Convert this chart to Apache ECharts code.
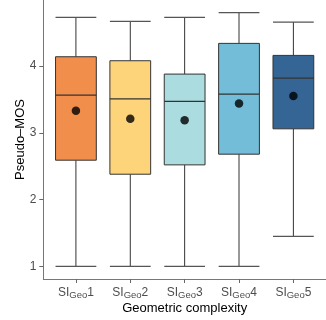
<!DOCTYPE html>
<html>
<head>
<meta charset="utf-8">
<script src="https://cdn.jsdelivr.net/npm/echarts@6/dist/echarts.min.js"></script>
<style>
  html, body { margin: 0; padding: 0; background: #fff; }
  #chart { width: 326px; height: 320px; }
</style>
</head>
<body>
<div id="chart"></div>
<script>
// Geometric complexity groups (SI_Geo 1..5)
const groups = ['1', '2', '3', '4', '5'];
const groupPos = [1, 2, 3, 4, 5];
// Five-number summaries of Pseudo-MOS per group
const lowerWhisker = [1.00, 1.00, 1.00, 1.00, 1.45];
const q1 = [2.59, 2.38, 2.52, 2.68, 3.06];
const median = [3.565, 3.51, 3.47, 3.58, 3.82];
const q3 = [4.14, 4.08, 3.88, 4.34, 4.16];
const upperWhisker = [4.73, 4.67, 4.73, 4.80, 4.66];
// Group means (black dots)
const means = [3.33, 3.21, 3.19, 3.44, 3.55];
const fills = ['#F28E4B', '#FED47B', '#ABDCDF', '#74BDD8', '#346595'];
const yTicks = [1, 2, 3, 4];

const boxData = groupPos.map((p, i) => [p, lowerWhisker[i], q1[i], median[i], q3[i], upperWhisker[i]]);
const meanData = groupPos.map((p, i) => [p, means[i]]);

function renderBox(params, api) {
  const x = api.value(0);
  const i = params.dataIndex;
  const w = api.size([0.75, 0])[0];
  const pMin = api.coord([x, api.value(1)]);
  const pQ1 = api.coord([x, api.value(2)]);
  const pMed = api.coord([x, api.value(3)]);
  const pQ3 = api.coord([x, api.value(4)]);
  const pMax = api.coord([x, api.value(5)]);
  const cx = pMin[0];
  const left = cx - w / 2;
  const stroke = { stroke: '#333', lineWidth: 1, fill: null };
  const cap = { stroke: '#555', lineWidth: 1.3, fill: null };
  return {
    type: 'group',
    children: [
      { type: 'line', shape: { x1: cx, y1: pMin[1], x2: cx, y2: pQ1[1] }, style: stroke },
      { type: 'line', shape: { x1: cx, y1: pQ3[1], x2: cx, y2: pMax[1] }, style: stroke },
      { type: 'line', shape: { x1: left, y1: pMin[1], x2: left + w, y2: pMin[1] }, style: cap },
      { type: 'line', shape: { x1: left, y1: pMax[1], x2: left + w, y2: pMax[1] }, style: cap },
      { type: 'rect', shape: { x: left, y: pQ3[1], width: w, height: pQ1[1] - pQ3[1] },
        style: { fill: fills[i], stroke: '#333', lineWidth: 1 } },
      { type: 'line', shape: { x1: left, y1: pMed[1], x2: left + w, y2: pMed[1] },
        style: { stroke: '#333', lineWidth: 1.3 } }
    ]
  };
}

const chart = echarts.init(document.getElementById('chart'), null, { renderer: 'canvas' });
chart.setOption({
  animation: false,
  backgroundColor: '#fff',
  textStyle: { fontFamily: 'Liberation Sans, Arial, sans-serif' },
  grid: { left: 43.3, top: 0, width: 289, bottom: 40, containLabel: false },
  xAxis: {
    type: 'value',
    min: 0.4,
    max: 5.6,
    name: 'Geometric complexity',
    nameLocation: 'middle',
    nameGap: 23,
    nameMoveOverlap: false,
    nameTextStyle: { color: '#000', fontSize: 13 },
    splitLine: { show: false },
    axisLine: { show: true, onZero: false, lineStyle: { color: '#777', width: 1 } },
    axisTick: { show: true, length: 4, lineStyle: { color: '#666' }, customValues: groupPos },
    axisLabel: {
      customValues: groupPos,
      margin: 7,
      color: '#4D4D4D',
      formatter: v => '{m|SI}{s|Geo}{m|' + groups[Math.round(v) - 1] + '}',
      rich: {
        m: { fontSize: 12, color: '#4D4D4D', lineHeight: 14 },
        s: { fontSize: 9.5, color: '#4D4D4D', lineHeight: 6, verticalAlign: 'bottom' }
      }
    }
  },
  yAxis: {
    type: 'value',
    min: 0.81,
    max: 4.99,
    name: 'Pseudo\u2013MOS',
    nameLocation: 'middle',
    nameGap: 16,
    nameMoveOverlap: false,
    nameTextStyle: { color: '#000', fontSize: 13 },
    splitLine: { show: false },
    axisLine: { show: true, onZero: false, lineStyle: { color: '#777', width: 1 } },
    axisTick: { show: true, length: 4, lineStyle: { color: '#666' }, customValues: yTicks },
    axisLabel: { customValues: yTicks, margin: 7, color: '#4D4D4D', fontSize: 12 }
  },
  series: [
    {
      type: 'custom',
      renderItem: renderBox,
      encode: { x: 0, y: [1, 2, 3, 4, 5] },
      data: boxData,
      clip: false
    },
    {
      type: 'scatter',
      data: meanData,
      symbol: 'circle',
      symbolSize: 8.5,
      itemStyle: { color: '#000' },
      z: 5
    }
  ]
});
</script>
</body>
</html>
